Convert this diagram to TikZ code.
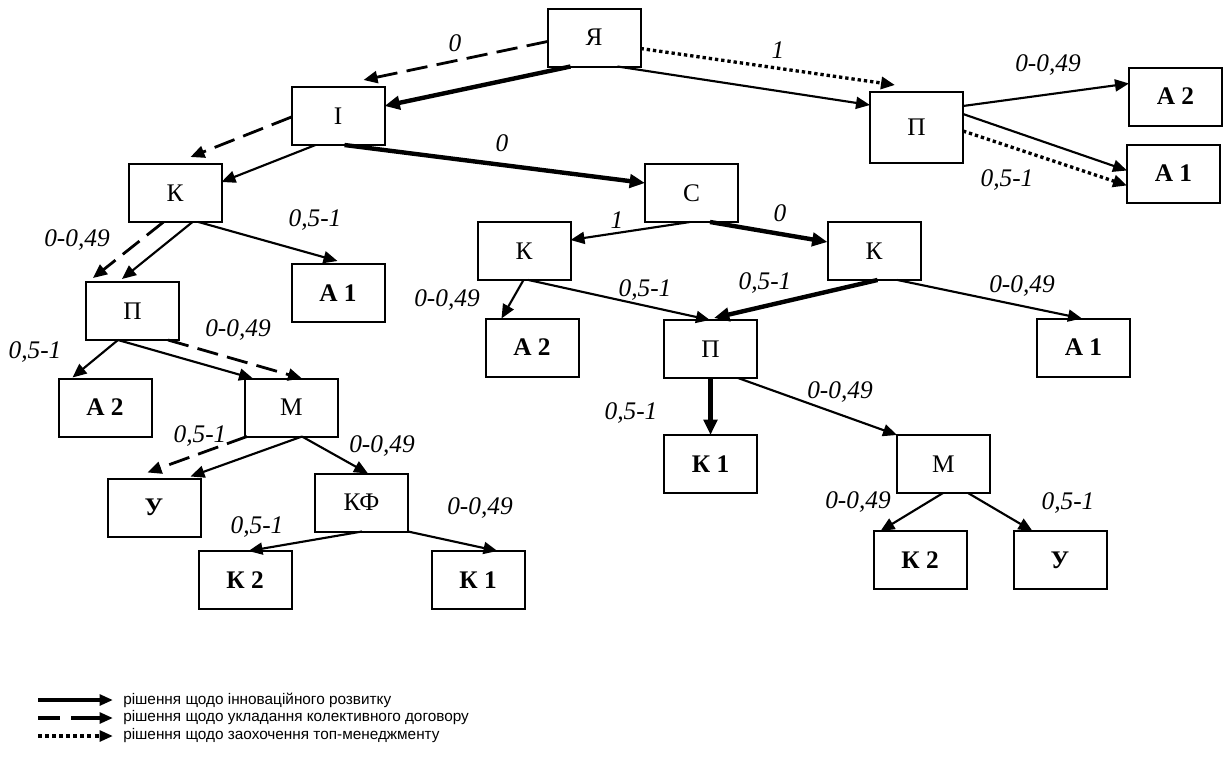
\documentclass[tikz,border=0pt]{standalone}
\usepackage{fontspec}
\setmainfont{Liberation Serif}
\newfontfamily\legendfont{Liberation Sans}
\usetikzlibrary{arrows.meta,calc}
\tikzset{
  box/.style={draw, line width=1.5pt, minimum width=69.75pt, minimum height=43.5pt,
    inner sep=0pt, outer sep=0pt, font=\fontsize{19}{21}\selectfont},
  leaf/.style={box, font=\fontsize{19}{21}\selectfont\bfseries},
  lbl/.style={font=\fontsize{19}{21}\selectfont\itshape, inner sep=0pt},
  plain/.style={-{Triangle[length=10.5pt,width=9pt]}, line width=1.6pt},
  heavy/.style={-{Triangle[length=11.5pt,width=10pt]}, line width=3.3pt},
  dsh/.style={-{Triangle[length=10.5pt,width=9pt]}, line width=2.1pt, dash pattern=on 16pt off 7pt},
  dtt/.style={-{Triangle[length=10.5pt,width=9pt]}, line width=2.5pt, dash pattern=on 2.5pt off 2.2pt},
  legtxt/.style={anchor=west, inner sep=0pt, font=\legendfont\fontsize{11.5}{13}\selectfont},
  legarrow/.style={-{Triangle[length=10pt,width=8pt]}, line width=3pt},
}
\begin{document}
\begin{tikzpicture}[x=0.75pt,y=-0.75pt]
\useasboundingbox (0,0) rectangle (1224,760);
% nodes
\node[box] (ya) at (594,37.5) {Я};
\node[box] (i) at (338,116) {І};
\node[box, minimum height=53.25pt] (pr) at (916.5,127.5) {П};
\node[leaf] (a2r) at (1175.5,96.5) {А 2};
\node[leaf] (a1r) at (1173.5,173.5) {А 1};
\node[box] (kl) at (175,193) {К};
\node[box] (pl) at (132.5,311) {П};
\node[leaf] (a1l) at (338,293) {А 1};
\node[leaf] (a2l) at (105,407.5) {А 2};
\node[box] (ml) at (291.5,407.5) {М};
\node[leaf] (ul) at (154,507.5) {У};
\node[box] (kf) at (361.5,502.5) {КФ};
\node[leaf] (k2l) at (245,580) {К 2};
\node[leaf] (k1l) at (478,580) {К 1};
\node[box] (c) at (691.5,193) {С};
\node[box] (kml) at (524,251) {К};
\node[box] (kmr) at (874,251) {К};
\node[leaf] (a2m) at (532,347.5) {А 2};
\node[box] (pm) at (710.5,349) {П};
\node[leaf] (a1m) at (1083.5,347.5) {А 1};
\node[leaf] (k1m) at (710.5,464) {К 1};
\node[box] (mm) at (943.5,464) {М};
\node[leaf] (k2m) at (920,560) {К 2};
\node[leaf] (um) at (1060,560) {У};
% connectors
\draw[dsh] ($(ya.north west)+(0,33)$) -- ($(i.north west)+(72,-7)$);
\draw[heavy] ($(ya.south west)+(23,0)$) -- ($(i.north east)+(0,19)$);
\draw[dtt] ($(ya.north east)+(0,40)$) -- ($(pr.north west)+(25,-7)$);
\draw[plain] ($(ya.south west)+(70,0)$) -- ($(pr.north west)+(0,13)$);
\draw[heavy] ($(i.south west)+(53,0)$) -- ($(c.north west)+(0,19)$);
\draw[dsh] ($(i.north west)+(0,30)$) -- ($(kl.north west)+(62,-7)$);
\draw[plain] ($(i.south west)+(24,0)$) -- ($(kl.north east)+(0,18)$);
\draw[plain] ($(pr.north east)+(0,14)$) -- ($(a2r.north west)+(0,16)$);
\draw[plain] ($(pr.north east)+(0,22)$) -- ($(a1r.north west)+(0,26)$);
\draw[dtt] ($(pr.north east)+(0,39)$) -- ($(a1r.north west)+(0,41)$);
\draw[dsh] ($(kl.south west)+(35,0)$) -- ($(pl.north west)+(7,-4)$);
\draw[plain] ($(kl.south west)+(64,0)$) -- ($(pl.north west)+(36,-3)$);
\draw[plain] ($(kl.south west)+(70,0)$) -- ($(a1l.north west)+(46,-3)$);
\draw[plain] ($(pl.south west)+(32,0)$) -- ($(a2l.north west)+(14,-1)$);
\draw[plain] ($(pl.south west)+(32,0)$) -- ($(ml.north west)+(8,0)$);
\draw[dsh] ($(pl.south west)+(82,0)$) -- ($(ml.north west)+(57,0)$);
\draw[plain] ($(ml.south west)+(57,0)$) -- ($(ul.north west)+(83,-2)$);
\draw[dsh] ($(ml.south west)+(2,0)$) -- ($(ul.north west)+(40,-6)$);
\draw[plain] ($(ml.south west)+(57,0)$) -- ($(kf.north west)+(53,0)$);
\draw[plain] ($(kf.south west)+(47,0)$) -- ($(k2l.north west)+(50,0)$);
\draw[plain] (kf.south east) -- ($(k1l.north west)+(66,0)$);
\draw[plain] ($(c.south west)+(45,0)$) -- ($(kml.north east)+(0,18)$);
\draw[heavy] ($(c.south west)+(65,0)$) -- ($(kmr.north west)+(0,20)$);
\draw[plain] ($(kml.south west)+(46,0)$) -- ($(a2m.north west)+(16,0)$);
\draw[plain] ($(kml.south west)+(51,0)$) -- ($(pm.north west)+(46,0)$);
\draw[heavy] ($(kmr.south west)+(50,0)$) -- ($(pm.north west)+(50,-2)$);
\draw[plain] ($(kmr.south west)+(70,0)$) -- ($(a1m.north west)+(45,0)$);
\draw[heavy] (pm.south) -- (k1m.north);
\draw[plain] ($(pm.south west)+(74,0)$) -- (mm.north west);
\draw[plain] ($(mm.south west)+(46,0)$) -- ($(k2m.north west)+(7,0)$);
\draw[plain] ($(mm.south west)+(71,0)$) -- ($(um.north west)+(19,0)$);
% labels
\node[lbl] (l1) at (455,43) {0};
\node[lbl] (l2) at (778,50) {1};
\node[lbl] (l3) at (502,143) {0};
\node[lbl] (l4) at (1048,65) {0-0,49};
\node[lbl] (l5) at (1007,180) {0,5-1};
\node[lbl] (l6) at (315,220) {0,5-1};
\node[lbl] (l7) at (77,240) {0-0,49};
\node[lbl] (l8) at (238,330) {0-0,49};
\node[lbl] (l9) at (35,352) {0,5-1};
\node[lbl] (l10) at (200,436) {0,5-1};
\node[lbl] (l11) at (382,446) {0-0,49};
\node[lbl] (l12) at (257,527) {0,5-1};
\node[lbl] (l13) at (480,508) {0-0,49};
\node[lbl] (l14) at (617,220) {1};
\node[lbl] (l15) at (780,213) {0};
\node[lbl] (l16) at (447,300) {0-0,49};
\node[lbl] (l17) at (645,290) {0,5-1};
\node[lbl] (l18) at (765,283) {0,5-1};
\node[lbl] (l19) at (1022,286) {0-0,49};
\node[lbl] (l20) at (631,413) {0,5-1};
\node[lbl] (l21) at (840,392) {0-0,49};
\node[lbl] (l22) at (858,502) {0-0,49};
\node[lbl] (l23) at (1068,503) {0,5-1};
% legend
\coordinate (g1a) at (38,700); \coordinate (g1b) at (113,700);
\coordinate (g2a) at (38,718); \coordinate (g2b) at (113,718);
\coordinate (g3a) at (38,736); \coordinate (g3b) at (113,736);
\draw[legarrow] (g1a) -- (g1b);
\draw[legarrow, dash pattern=on 16.5pt off 8.5pt on 40pt off 8pt] (g2a) -- (g2b);
\draw[legarrow, dash pattern=on 3pt off 2.3pt] (g3a) -- (g3b);
\node[legtxt] (t1) at (123,700) {рішення щодо інноваційного розвитку};
\node[legtxt] (t2) at (123,718) {рішення щодо укладання колективного договору};
\node[legtxt] (t3) at (123,736) {рішення щодо заохочення топ-менеджменту};
\end{tikzpicture}
\end{document}
